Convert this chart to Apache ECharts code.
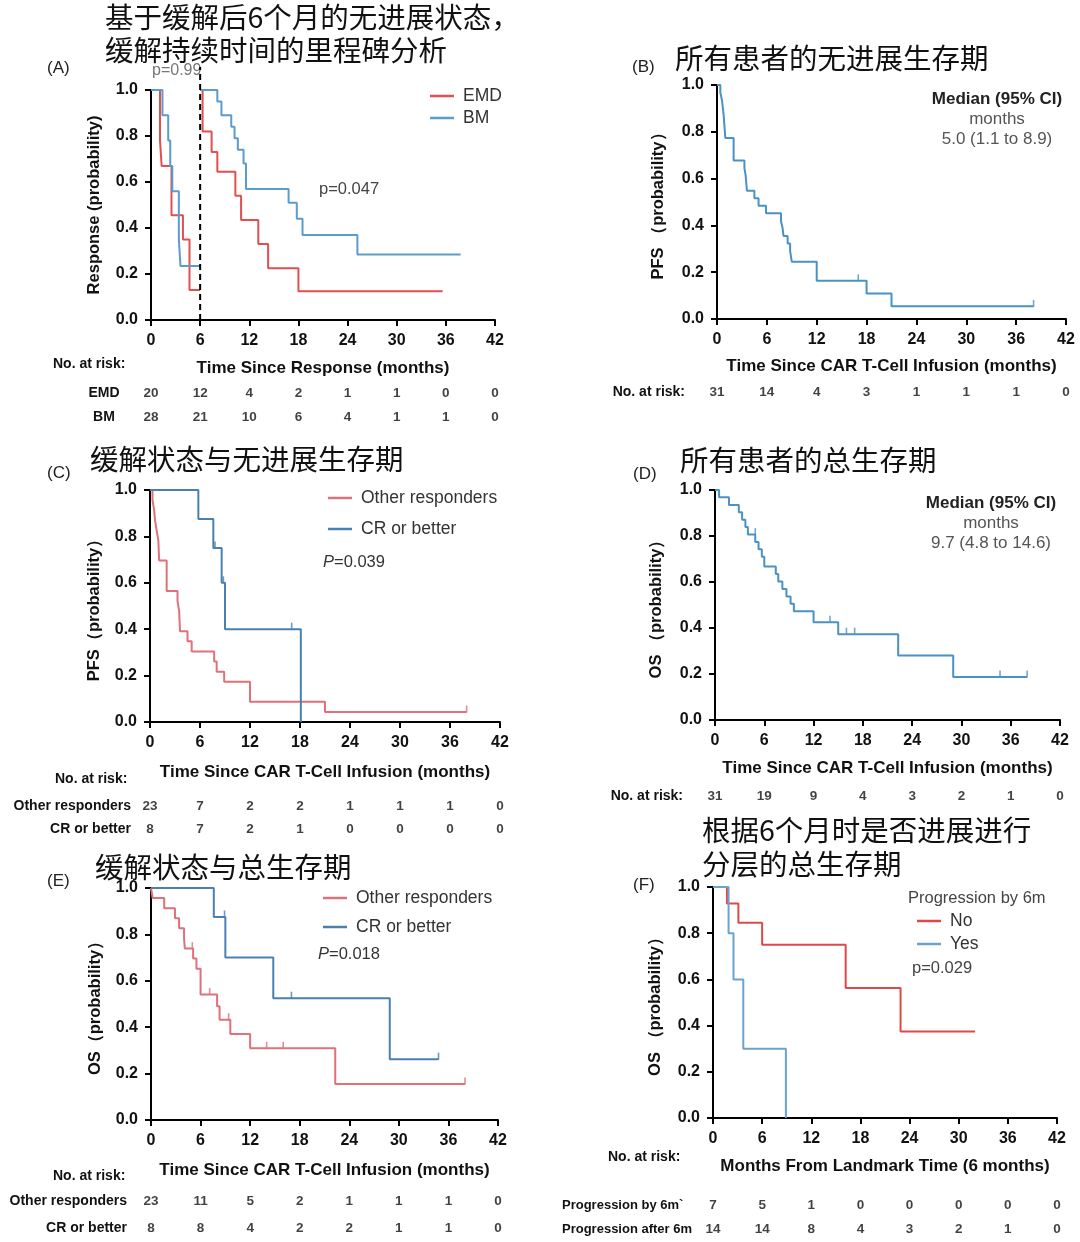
<!DOCTYPE html>
<html><head><meta charset="utf-8">
<script src="https://cdn.jsdelivr.net/npm/echarts@6/dist/echarts.min.js"></script>
<style>html,body{margin:0;padding:0;background:#fff}#c{width:1080px;height:1242px}</style>
</head><body><div id="c"></div>
<script>
// ---------- DATA ----------
const xTicks = [0, 6, 12, 18, 24, 30, 36, 42];
// (A) response duration, landmark at 6 months
const aLandmark = [6, 0, 1.1];
const aEmdBefore = [[0,1],[1.1,0.78],[1.3,0.67],[2.5,0.455],[3.9,0.35],[4.7,0.13],[6,0.13]];
const aBmBefore  = [[0,1],[1.4,0.89],[2.1,0.78],[2.35,0.67],[2.6,0.56],[3.4,0.35],[3.6,0.235],[6,0.235]];
const aEmdAfter  = [[6,1],[6.3,0.82],[7.4,0.73],[8.1,0.645],[10.3,0.54],[11,0.435],[13.1,0.33],[14.3,0.225],[18,0.125],[35.6,0.125]];
const aBmAfter   = [[6,1],[8.1,0.95],[8.6,0.89],[9.8,0.84],[10.2,0.79],[10.6,0.74],[11.3,0.68],[11.6,0.57],[16.8,0.51],[17.8,0.44],[18.5,0.37],[25.2,0.285],[37.8,0.285]];
const aRiskEMD = [20,12,4,2,1,1,0,0];
const aRiskBM  = [28,21,10,6,4,1,1,0];
// (B) PFS all patients
const bPfs = [[0,1],[0.4,0.968],[0.6,0.935],[0.8,0.871],[1.0,0.774],[2.0,0.677],[3.3,0.645],[3.45,0.613],[3.6,0.548],[4.5,0.516],[5.0,0.484],[5.9,0.452],[7.7,0.419],[7.9,0.387],[8.0,0.355],[8.5,0.323],[8.8,0.29],[9.0,0.245],[12.0,0.163],[18.0,0.109],[21.0,0.054],[38.1,0.054]];
const bCensor = [[17,0.163],[38.1,0.054]];
const bRisk = [31,14,4,3,1,1,1,0];
// (C) PFS by response
const cOther = [[0,1],[0.3,0.957],[0.5,0.913],[0.6,0.87],[0.8,0.826],[1.0,0.783],[1.1,0.696],[2.0,0.565],[3.3,0.522],[3.5,0.478],[3.6,0.391],[4.5,0.348],[5.0,0.304],[7.7,0.261],[8.0,0.217],[8.9,0.174],[12.0,0.087],[21.0,0.043],[38.0,0.043]];
const cOtherCensor = [[38,0.043]];
const cCR = [[0,1],[5.8,0.875],[7.6,0.75],[8.6,0.6],[9.0,0.4],[18.1,0]];
const cCRCensor = [[7.8,0.75],[8.8,0.6],[17,0.4]];
const cRiskOther = [23,7,2,2,1,1,1,0];
const cRiskCR    = [8,7,2,1,0,0,0,0];
// (D) OS all patients
const dOs = [[0,1],[0.5,0.968],[1.7,0.935],[2.9,0.903],[3.3,0.871],[3.7,0.839],[4.0,0.806],[4.9,0.774],[5.3,0.742],[5.7,0.71],[6.0,0.667],[7.4,0.635],[7.7,0.602],[8.2,0.57],[8.7,0.537],[9.2,0.505],[9.6,0.473],[12.0,0.425],[15.0,0.373],[22.3,0.28],[29.0,0.187],[38.0,0.187]];
const dCensor = [[4.9,0.806],[14.0,0.425],[16.0,0.373],[17.0,0.373],[34.7,0.187],[38,0.187]];
const dRisk = [31,19,9,4,3,2,1,0];
// (E) OS by response
const eOther = [[0,1],[0.2,0.957],[1.6,0.913],[2.9,0.87],[3.4,0.826],[4.0,0.783],[4.1,0.739],[5.1,0.696],[5.5,0.652],[6.0,0.541],[8.0,0.49],[8.3,0.432],[9.6,0.371],[12.0,0.309],[22.3,0.155],[38.0,0.155]];
const eOtherCensor = [[5.0,0.739],[7.1,0.541],[9.4,0.432],[14,0.309],[16,0.309],[38,0.155]];
const eCR = [[0,1],[7.6,0.875],[9.0,0.70],[14.8,0.525],[28.9,0.262],[34.8,0.262]];
const eCRCensor = [[8.9,0.875],[17,0.525],[34.8,0.262]];
const eRiskOther = [23,11,5,2,1,1,1,0];
const eRiskCR    = [8,8,4,2,2,1,1,0];
// (F) OS by progression at 6m landmark
const fNo  = [[0,1],[1.7,0.929],[3.1,0.845],[6.0,0.75],[16.2,0.563],[22.9,0.375],[32,0.375]];
const fYes = [[0,1],[1.9,0.8],[2.5,0.6],[3.7,0.3],[8.9,0]];
const fRiskBy    = [7,5,1,0,0,0,0,0];
const fRiskAfter = [14,14,8,4,3,2,1,0];

// ---------- STYLE / LAYOUT ----------
const FONT = '"Liberation Sans", Arial, sans-serif';
const CJK = '"Noto Sans CJK SC", "Noto Sans", sans-serif';
const RED_A = '#e05050', BLUE_A = '#5a9ccc';
const RED_C = '#e0707a', BLUE_C = '#4a80b0';
const BLUE_B = '#4a92c4';
const RED_F = '#e04848', BLUE_F = '#6aa3cf';

const plotGrids = [
  {left:151, top:90,  width:344, height:230},
  {left:717, top:85,  width:349, height:234},
  {left:150, top:490, width:350, height:232},
  {left:715, top:490, width:345, height:230},
  {left:151, top:888, width:347, height:232},
  {left:713, top:887, width:344, height:231}
];
const xNames = ['Time Since Response (months)','Time Since CAR T-Cell Infusion (months)','Time Since CAR T-Cell Infusion (months)','Time Since CAR T-Cell Infusion (months)','Time Since CAR T-Cell Infusion (months)','Months From Landmark Time (6 months)'];
const yNames = ['Response (probability)','PFS （probability）','PFS（probability）','OS （probability）','OS（probability）','OS （probability）'];
const xGaps = [40, 39, 42, 40, 42, 40];
const yGaps = [48, 50, 47, 50, 47, 49];

const riskDefs = [
  {grid:{left:151, top:381, width:344, height:48}, rows:['EMD','BM'], align:'center', margin:47, size:14, vals:[aRiskEMD,aRiskBM]},
  {grid:{left:717, top:380, width:349, height:24}, rows:['No. at risk:'], align:'right', margin:32, size:14, vals:[bRisk]},
  {grid:{left:150, top:795, width:350, height:46}, rows:['Other responders','CR or better'], align:'right', margin:19, size:14, vals:[cRiskOther,cRiskCR]},
  {grid:{left:715, top:784, width:345, height:24}, rows:['No. at risk:'], align:'right', margin:32, size:14, vals:[dRisk]},
  {grid:{left:151, top:1188, width:347, height:60}, rows:['Other responders','CR or better'], align:'right', margin:24, size:14, vals:[eRiskOther,eRiskCR]},
  {grid:{left:713, top:1193, width:344, height:48}, rows:['Progression by 6m`','Progression after 6m'], align:'left', margin:151, size:13, vals:[fRiskBy,fRiskAfter]}
];

const grid = [], xAxis = [], yAxis = [], series = [];
plotGrids.forEach((g, i) => {
  grid.push(Object.assign({containLabel:false}, g));
  xAxis.push({
    gridIndex:i, type:'value', min:0, max:42, interval:6,
    axisLine:{lineStyle:{color:'#000', width:2}},
    axisTick:{length:6, lineStyle:{color:'#000', width:2}},
    axisLabel:{color:'#111', fontWeight:'bold', fontSize:16, fontFamily:FONT, margin:13},
    splitLine:{show:false},
    name:xNames[i], nameLocation:'middle', nameGap:xGaps[i],
    nameTextStyle:{color:'#111', fontWeight:'bold', fontSize:17, fontFamily:FONT}
  });
  yAxis.push({
    gridIndex:i, type:'value', min:0, max:1, interval:0.2,
    axisLine:{show:true, lineStyle:{color:'#000', width:2}},
    axisTick:{show:true, length:6, lineStyle:{color:'#000', width:2}},
    axisLabel:{color:'#111', fontWeight:'bold', fontSize:16, fontFamily:FONT, margin:13, formatter:v => v.toFixed(1)},
    splitLine:{show:false},
    name:yNames[i], nameLocation:'middle', nameGap:yGaps[i],
    nameTextStyle:{color:'#111', fontWeight:'bold', fontSize:16.5, fontFamily:FONT}
  });
});
riskDefs.forEach((r, k) => {
  const gi = 6 + k;
  grid.push(r.grid);
  xAxis.push({gridIndex:gi, type:'value', min:0, max:42, show:false});
  yAxis.push({gridIndex:gi, type:'category', data:r.rows, inverse:true,
    axisLine:{show:false}, axisTick:{show:false}, splitLine:{show:false},
    axisLabel:{color:'#111', fontWeight:'bold', fontSize:r.size, fontFamily:FONT, align:r.align, margin:r.margin}});
  const data = [];
  r.vals.forEach((row, ri) => row.forEach((n, ti) => data.push([xTicks[ti], r.rows[ri], n])));
  series.push({type:'scatter', xAxisIndex:gi, yAxisIndex:gi, data, symbolSize:1,
    itemStyle:{color:'transparent'}, silent:true,
    label:{show:true, position:'inside', formatter:p => String(p.value[2]), color:'#111', fontWeight:'bold', fontSize:13.5, fontFamily:FONT}});
});

function km(name, gi, data, color) {
  series.push({type:'line', name, xAxisIndex:gi, yAxisIndex:gi, data, step:'end', showSymbol:false, symbol:'none',
    lineStyle:{color, width:2}, itemStyle:{color}, z:3, silent:true});
}
function censor(gi, data, color) {
  series.push({type:'scatter', name:'censor'+gi+color, xAxisIndex:gi, yAxisIndex:gi, data, symbol:'rect', symbolSize:[1.6,7], symbolOffset:[0,-3],
    itemStyle:{color}, z:4, silent:true});
}
// A
km('EMD', 0, aEmdAfter, RED_A); km('BM', 0, aBmAfter, BLUE_A);
km('EMD', 0, aEmdBefore, RED_A); km('BM', 0, aBmBefore, BLUE_A);
series.push({type:'custom', xAxisIndex:0, yAxisIndex:0, clip:false, silent:true, z:5, data:[aLandmark],
  renderItem:(params, api) => {
    const p0 = api.coord([api.value(0), api.value(1)]);
    const p1 = api.coord([api.value(0), api.value(2)]);
    return {type:'line', shape:{x1:p0[0], y1:p0[1], x2:p1[0], y2:p1[1]}, style:{stroke:'#000', lineWidth:2, lineDash:[6,4]}};
  }});
// B
km('PFS all', 1, bPfs, BLUE_B); censor(1, bCensor, BLUE_B);
// C
km('Other responders', 2, cOther, RED_C); km('CR or better', 2, cCR, BLUE_C);
censor(2, cOtherCensor, RED_C); censor(2, cCRCensor, BLUE_C);
// D
km('OS all', 3, dOs, BLUE_B); censor(3, dCensor, BLUE_B);
// E
km('Other responders', 4, eOther, RED_C); km('CR or better', 4, eCR, BLUE_C);
censor(4, eOtherCensor, RED_C); censor(4, eCRCensor, BLUE_C);
// F
km('No', 5, fNo, RED_F); km('Yes', 5, fYes, BLUE_F);

const legendBase = {orient:'vertical', icon:'rect', itemWidth:24, itemHeight:2.5, selectedMode:false,
  textStyle:{color:'#333', fontSize:17.5, fontFamily:FONT, padding:[0,0,0,4]}};
const legend = [
  Object.assign({}, legendBase, {data:['EMD','BM'], left:425, top:82, itemGap:4}),
  Object.assign({}, legendBase, {data:['Other responders','CR or better'], left:323, top:484, itemGap:13}),
  Object.assign({}, legendBase, {data:['Other responders','CR or better'], left:318, top:884, itemGap:11}),
  Object.assign({}, legendBase, {data:['No','Yes'], left:912, top:907, itemGap:5})
];

function txt(text, left, top, size, opts) {
  return Object.assign({type:'text', left, top, silent:true,
    style:Object.assign({text, fontSize:size, fontFamily:FONT, fill:'#222'}, (opts||{}))});
}
function ctr(text, x, y, size, weight, fill) {
  return {type:'text', x, y, silent:true, style:{text, fontSize:size, fontFamily:FONT, fontWeight:weight||'normal', fill:fill||'#333', align:'center', verticalAlign:'middle'}};
}
const T = (t,l,tp) => txt(t,l,tp,28.5,{fontFamily:CJK, fill:'#111'});
const pRich = t => ({type:'text', silent:true, style:{text:t, fontSize:16.5, fontFamily:FONT, fill:'#333', rich:{i:{fontStyle:'italic', fontSize:16.5, fontFamily:FONT, fill:'#333'}}}});
const graphic = [
  T('基于缓解后6个月的无进展状态，', 105, 3), T('缓解持续时间的里程碑分析', 105, 36),
  txt('(A)', 47, 60, 17), txt('p=0.99', 152, 63, 16, {fill:'#777'}), txt('p=0.047', 319, 181, 16.5, {fill:'#444'}),
  txt('No. at risk:', 53, 357, 14, {fontWeight:'bold', fill:'#111'}),
  T('所有患者的无进展生存期', 675, 44), txt('(B)', 632, 59, 17),
  ctr('Median (95% CI)', 997, 99, 17, 'bold', '#222'), ctr('months', 997, 119, 17, 'normal', '#555'), ctr('5.0 (1.1 to 8.9)', 997, 139, 17, 'normal', '#555'),
  T('缓解状态与无进展生存期', 90, 445), txt('(C)', 47, 465, 17),
  Object.assign(pRich('{i|P}=0.039'), {left:323, top:554}),
  txt('No. at risk:', 55, 772, 14, {fontWeight:'bold', fill:'#111'}),
  T('所有患者的总生存期', 680, 446), txt('(D)', 633, 466, 17),
  ctr('Median (95% CI)', 991, 503, 17, 'bold', '#222'), ctr('months', 991, 523, 17, 'normal', '#555'), ctr('9.7 (4.8 to 14.6)', 991, 543, 17, 'normal', '#555'),
  T('缓解状态与总生存期', 95, 853), txt('(E)', 47, 873, 17),
  Object.assign(pRich('{i|P}=0.018'), {left:318, top:946}),
  txt('No. at risk:', 53, 1169, 14, {fontWeight:'bold', fill:'#111'}),
  T('根据6个月时是否进展进行', 702, 816), T('分层的总生存期', 702, 850), txt('(F)', 633, 877, 17),
  txt('Progression by 6m', 908, 890, 16.5, {fill:'#444'}), txt('p=0.029', 912, 960, 16.5, {fill:'#444'}),
  txt('No. at risk:', 608, 1150, 14, {fontWeight:'bold', fill:'#111'})
];

const chart = echarts.init(document.getElementById('c'), null, {renderer:'canvas'});
chart.setOption({backgroundColor:'#fff', animation:false, grid, xAxis, yAxis, series, legend, graphic});
</script></body></html>
